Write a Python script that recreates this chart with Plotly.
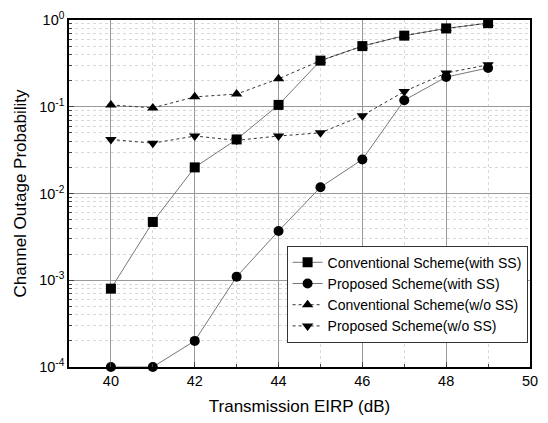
import plotly.graph_objects as go

eirp = [40, 41, 42, 43, 44, 45, 46, 47, 48, 49]
conv_ss = [8e-4, 4.7e-3, 0.02, 0.042, 0.105, 0.34, 0.50, 0.66, 0.80, 0.92]
prop_ss = [1e-4, 1e-4, 2e-4, 1.1e-3, 3.7e-3, 0.0118, 0.0247, 0.119, 0.22, 0.28]
conv_noss = [0.105, 0.097, 0.13, 0.14, 0.21, 0.34, 0.50, 0.66, 0.80, 0.92]
prop_noss = [0.042, 0.038, 0.046, 0.041, 0.046, 0.050, 0.079, 0.15, 0.245, 0.305]

names = ["Conventional Scheme(with SS)", "Proposed Scheme(with SS)",
         "Conventional Scheme(w/o SS)", "Proposed Scheme(w/o SS)"]
series = [conv_ss, prop_ss, conv_noss, prop_noss]
symbols = ["square", "circle", "triangle-up", "triangle-down"]
dashes = ["solid", "solid", "dot", "dot"]
lcolors = ["#777777", "#777777", "#333333", "#333333"]

ytickvals = [1e-4, 1e-3, 1e-2, 1e-1, 1]
yticktext = ["10<sup>-4</sup>", "10<sup>-3</sup>", "10<sup>-2</sup>", "10<sup>-1</sup>", "10<sup>0</sup>"]
xtickvals = [40, 42, 44, 46, 48, 50]

fig = go.Figure()
for y, n, s, d, c in zip(series, names, symbols, dashes, lcolors):
    fig.add_trace(go.Scatter(
        x=eirp, y=y, name=n, mode="lines+markers",
        line=dict(color=c, width=1, dash=d),
        marker=dict(symbol=s, size=10, color="black"),
        cliponaxis=False,
    ))

minor_y = [k * 10.0 ** e for e in range(-4, 0) for k in range(2, 10)]

fig.update_layout(
    width=548, height=423,
    margin=dict(l=69, r=10, t=15, b=53),
    paper_bgcolor="white", plot_bgcolor="white",
    font=dict(family="Liberation Sans, Arial, sans-serif", size=14, color="black"),
    showlegend=True,
    legend=dict(
        x=0.472, y=0.07, xanchor="left", yanchor="bottom",
        bgcolor="white", bordercolor="#333333", borderwidth=1,
        font=dict(size=14), tracegroupgap=0, itemwidth=30,
    ),
    xaxis=dict(
        range=[39, 50], tickvals=xtickvals, ticks="inside", ticklen=5,
        showgrid=True, gridcolor="#999999", gridwidth=1,
        showline=True, linecolor="black", linewidth=1.5, mirror=True,
        zeroline=False,
        minor=dict(tickvals=[41, 43, 45, 47, 49], ticks="inside", ticklen=3,
                   showgrid=True, gridcolor="#d8d8d8", griddash="dot"),
        title=dict(text="Transmission EIRP (dB)", font=dict(size=17), standoff=12),
        tickfont=dict(size=14.5),
    ),
    yaxis=dict(
        type="log", range=[-4, 0], tickvals=ytickvals, ticktext=yticktext,
        ticks="inside", ticklen=5,
        showgrid=True, gridcolor="#999999", gridwidth=1,
        showline=True, linecolor="black", linewidth=1.5, mirror=True,
        zeroline=False,
        minor=dict(tickvals=minor_y, ticks="inside", ticklen=3,
                   showgrid=True, gridcolor="#d8d8d8", griddash="dot"),
        title=dict(text="Channel Outage Probability", font=dict(size=17), standoff=8),
        tickfont=dict(size=14.5),
    ),
)

fig.write_html("out.html")
